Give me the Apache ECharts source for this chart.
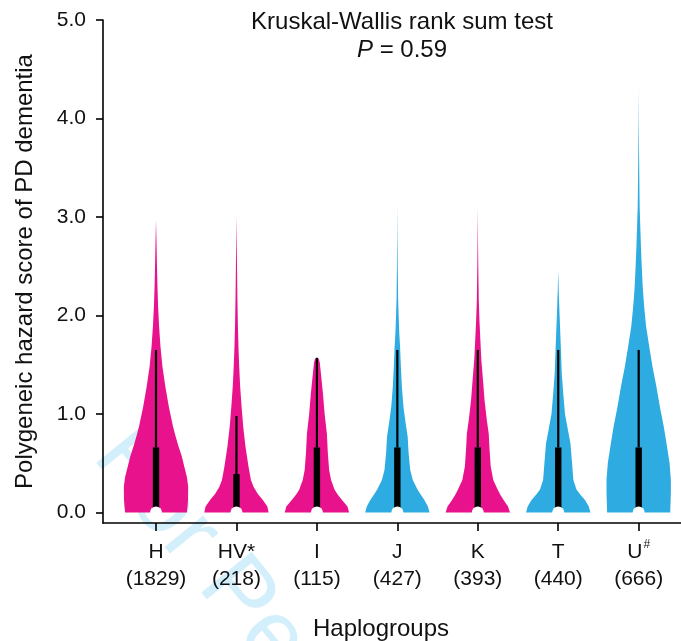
<!DOCTYPE html>
<html>
<head>
<meta charset="utf-8">
<script src="https://cdn.jsdelivr.net/npm/echarts@6/dist/echarts.min.js"></script>
<style>
html,body{margin:0;padding:0;background:#fff;}
#chart{width:681px;height:641px;}
</style>
</head>
<body>
<div id="chart"></div>
<script>
// ---------- data ----------
const categories = ['H', 'HV*', 'I', 'J', 'K', 'T', 'U#'];
const sampleSizes = [1829, 218, 115, 427, 393, 440, 666];
const medians = [0, 0, 0, 0, 0, 0, 0];
const q1Values = [0, 0, 0, 0, 0, 0, 0];
const q3Values = [0.66, 0.39, 0.66, 0.66, 0.66, 0.66, 0.66];
const whiskerTops = [1.65, 0.98, 1.57, 1.65, 1.65, 1.65, 1.65];
const yTicks = [0, 1, 2, 3, 4, 5];
const xTicks = [0, 1, 2, 3, 4, 5, 6];

// violin profiles: [score, relative density width]
const densityH = [[0,0.96],[0.06,0.98],[0.13,0.995],[0.26,1.0],[0.36,0.96],[0.465,0.88],[0.57,0.8],[0.67,0.7],[0.77,0.61],[0.87,0.53],[1.07,0.4],[1.28,0.29],[1.48,0.2],[1.68,0.14],[1.89,0.095],[2.09,0.065],[2.29,0.045],[2.5,0.03],[2.75,0.015],[2.97,0]];
const densityHV = [[0,1.0],[0.06,0.96],[0.127,0.82],[0.19,0.66],[0.26,0.53],[0.33,0.45],[0.465,0.375],[0.67,0.28],[0.87,0.21],[1.07,0.16],[1.28,0.115],[1.48,0.085],[1.68,0.062],[1.89,0.045],[2.16,0.03],[2.5,0.017],[2.75,0.008],[3.01,0]];
const densityI = [[0,1.0],[0.06,0.95],[0.127,0.78],[0.18,0.65],[0.23,0.55],[0.33,0.44],[0.43,0.38],[0.6,0.34],[0.8,0.31],[1.0,0.24],[1.2,0.19],[1.41,0.125],[1.52,0.09],[1.56,0.06],[1.57,0]];
const densityJ = [[0,1.0],[0.06,0.95],[0.127,0.84],[0.18,0.73],[0.23,0.63],[0.33,0.48],[0.43,0.4],[0.6,0.35],[0.77,0.32],[0.9,0.26],[1.07,0.19],[1.28,0.14],[1.48,0.11],[1.68,0.085],[1.82,0.06],[2.0,0.04],[2.16,0.025],[2.5,0.012],[2.8,0.005],[3.13,0]];
const densityK = [[0,1.0],[0.06,0.94],[0.127,0.8],[0.18,0.7],[0.23,0.62],[0.33,0.48],[0.47,0.4],[0.67,0.36],[0.8,0.34],[0.94,0.28],[1.14,0.21],[1.35,0.16],[1.55,0.11],[1.75,0.08],[1.96,0.05],[2.16,0.03],[2.5,0.015],[2.8,0.006],[3.10,0]];
const densityT = [[0,1.0],[0.06,0.95],[0.127,0.83],[0.18,0.69],[0.23,0.57],[0.33,0.47],[0.5,0.43],[0.7,0.38],[0.84,0.3],[1.0,0.21],[1.21,0.155],[1.41,0.11],[1.68,0.08],[2.02,0.04],[2.25,0.015],[2.46,0]];
const densityU = [[0,0.98],[0.1,0.99],[0.2,1.0],[0.33,1.0],[0.5,0.96],[0.67,0.88],[0.87,0.78],[1.07,0.66],[1.28,0.55],[1.48,0.43],[1.68,0.33],[1.89,0.23],[2.09,0.17],[2.29,0.125],[2.5,0.095],[2.7,0.07],[2.9,0.05],[3.1,0.03],[3.38,0.02],[3.72,0.01],[4.0,0.004],[4.33,0]];
const violinProfiles = [densityH, densityHV, densityI, densityJ, densityK, densityT, densityU];

// ---------- styles ----------
const MAGENTA = '#E8128C';
const BLUE = '#2EABE0';
const violinColors = [MAGENTA, MAGENTA, MAGENTA, BLUE, MAGENTA, BLUE, BLUE];
const HALF_WIDTH = 0.4;
const FONT = '"Liberation Sans", Arial, Helvetica, sans-serif';
const TXT = '#111';

const chart = echarts.init(document.getElementById('chart'), null, {renderer: 'canvas'});

function xLabel(v) {
  const i = Math.round(v);
  const c = categories[i];
  if (c === undefined) return '';
  let top;
  if (c.endsWith('#')) top = '{n|' + c.slice(0, -1) + '}{s|#}';
  else top = '{n|' + c + '}';
  return top + '\n{c|(' + sampleSizes[i] + ')}';
}

const option = {
  backgroundColor: '#fff',
  animation: false,
  grid: {left: 103, right: 0, top: 20, bottom: 118, containLabel: false, outerBoundsMode: 'none'},
  xAxis: {
    type: 'value',
    min: -0.659,
    max: 6.526,
    splitLine: {show: false},
    axisLine: {show: true, onZero: false, lineStyle: {color: '#000', width: 1.6}},
    axisTick: {show: true, customValues: xTicks, length: 8, lineStyle: {color: '#000', width: 1.6}},
    axisLabel: {
      show: true,
      customValues: xTicks,
      margin: 16,
      formatter: xLabel,
      color: TXT,
      fontFamily: FONT,
      rich: {
        n: {fontSize: 21, lineHeight: 27, fontFamily: FONT, color: TXT},
        s: {fontSize: 12, lineHeight: 27, verticalAlign: 'top', padding: [0, 0, 0, 1], fontFamily: FONT, color: TXT},
        c: {fontSize: 21, lineHeight: 27, fontFamily: FONT, color: TXT}
      }
    },
    name: 'Haplogroups',
    nameLocation: 'middle',
    nameGap: 94,
    nameTextStyle: {fontSize: 24, fontFamily: FONT, color: TXT, padding: [0, 22, 0, 0]}
  },
  yAxis: {
    type: 'value',
    min: -0.107,
    max: 5,
    splitLine: {show: false},
    axisLine: {show: true, onZero: false, lineStyle: {color: '#000', width: 1.6}},
    axisTick: {show: true, customValues: yTicks, length: 7, lineStyle: {color: '#000', width: 1.6}},
    axisLabel: {
      show: true,
      customValues: yTicks,
      margin: 17,
      formatter: v => v.toFixed(1),
      fontSize: 21,
      fontFamily: FONT,
      color: TXT
    },
    name: 'Polygeneic hazard score of PD dementia',
    nameLocation: 'middle',
    nameGap: 66,
    nameTextStyle: {fontSize: 24, fontFamily: FONT, color: TXT}
  },
  graphic: {
    elements: [
      {
        type: 'text', z: -10, zlevel: 0,
        x: 75, y: 470, rotation: -0.89,
        style: {text: 'For Peer Review', font: '94px ' + FONT, fill: '#D3EFFB', textVerticalAlign: 'bottom', verticalAlign: 'bottom'}
      },
      {
        type: 'text', z: 100,
        x: 402, y: 22,
        style: {text: 'Kruskal-Wallis rank sum test', font: '24px ' + FONT, fill: TXT, textAlign: 'center', align: 'center', textVerticalAlign: 'middle', verticalAlign: 'middle'}
      },
      {
        type: 'text', z: 100,
        x: 402, y: 50,
        style: {
          text: '{i|P} = 0.59', font: '24px ' + FONT, fill: TXT,
          textAlign: 'center', align: 'center', textVerticalAlign: 'middle', verticalAlign: 'middle',
          rich: {i: {fontStyle: 'italic', fontSize: 24, fontFamily: FONT, fill: TXT, color: TXT}}
        }
      }
    ]
  },
  series: [
    {
      type: 'custom',
      name: 'violin',
      z: 2,
      data: categories.map((c, i) => [i]),
      renderItem: function (params, api) {
        const i = api.value(0);
        const prof = violinProfiles[i];
        const right = prof.map(p => api.coord([i + p[1] * HALF_WIDTH, p[0]]));
        const left = prof.slice().reverse().map(p => api.coord([i - p[1] * HALF_WIDTH, p[0]]));
        return {
          type: 'polygon',
          shape: {points: right.concat(left)},
          style: {fill: violinColors[i], stroke: null}
        };
      }
    },
    {
      type: 'custom',
      name: 'box',
      z: 3,
      data: categories.map((c, i) => [i, medians[i], q1Values[i], q3Values[i], whiskerTops[i]]),
      renderItem: function (params, api) {
        const i = api.value(0);
        const med = api.coord([i, api.value(1)]);
        const q1 = api.coord([i, api.value(2)]);
        const q3 = api.coord([i, api.value(3)]);
        const wt = api.coord([i, api.value(4)]);
        return {
          type: 'group',
          children: [
            {type: 'line', shape: {x1: q3[0], y1: q3[1], x2: wt[0], y2: wt[1]}, style: {stroke: '#000', lineWidth: 2.2}},
            {type: 'rect', shape: {x: q1[0] - 3.2, y: q3[1], width: 6.4, height: q1[1] - q3[1]}, style: {fill: '#000'}},
            {type: 'circle', shape: {cx: med[0], cy: med[1], r: 6}, style: {fill: '#fff'}}
          ]
        };
      }
    }
  ]
};
chart.setOption(option);
</script>
</body>
</html>
